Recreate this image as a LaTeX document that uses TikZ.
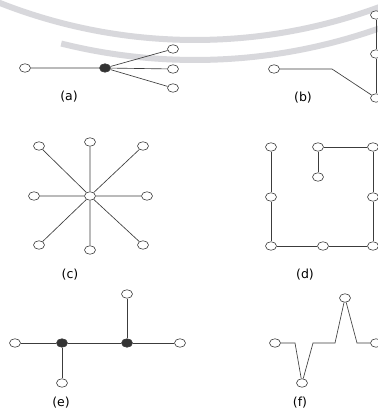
\documentclass[tikz,border=0pt]{standalone}
\usepackage{fontspec}
\setmainfont{DejaVu Sans}
\usetikzlibrary{shapes.geometric}
\definecolor{edgegray}{RGB}{60,60,60}
\definecolor{sealgray}{RGB}{216,216,220}
\tikzset{
  vtx/.style={draw=edgegray,fill=white,ellipse,minimum width=11pt,minimum height=8.5pt,inner sep=0pt,line width=0.6pt},
  hub/.style={vtx,fill=black!80},
  edge/.style={draw=edgegray,line width=0.65pt},
  caption/.style={font=\fontsize{12.5}{14}\selectfont}
}

\begin{document}
\begin{tikzpicture}[x=1pt,y=-1pt]
  \useasboundingbox (0,0) rectangle (377,411);
  \fill[white] (0,0) rectangle (377,411);
  \draw[sealgray,line width=6pt] plot[domain=68:113,samples=60] ({195+533*cos(\x)},{-493+533*sin(\x)});
  \draw[sealgray,line width=6pt] plot[domain=68:104,samples=60] ({195+553*cos(\x)},{-493+553*sin(\x)});

  \node[vtx] (a0) at (25,68) {};
  \node[hub] (a1) at (105,68) {};
  \node[vtx] (a2) at (173,49) {};
  \node[vtx] (a3) at (173,69) {};
  \node[vtx] (a4) at (173,88) {};
  \draw[edge] (a0) -- (a1) (a1) -- (a2) (a1) -- (a3) (a1) -- (a4);
  \node[caption] (capa) at (69,97) {(a)};

  \node[vtx] (b0) at (274,69) {};
  \coordinate (b1) at (332,69);
  \node[vtx] (b2) at (376,15) {};
  \node[vtx] (b3) at (376,54) {};
  \node[vtx] (b4) at (376,98) {};
  \draw[edge] (b0) -- (b1) -- (b4);
  \draw[edge] (b2) -- (b3) -- (b4);
  \node[caption] (capb) at (303,98) {(b)};

  \node[vtx] (c0) at (90,196) {};
  \node[vtx] (c1) at (90,142) {};
  \node[vtx] (c2) at (143,146) {};
  \node[vtx] (c3) at (147,196) {};
  \node[vtx] (c4) at (143,245) {};
  \node[vtx] (c5) at (90,250) {};
  \node[vtx] (c6) at (39,245) {};
  \node[vtx] (c7) at (34,196) {};
  \node[vtx] (c8) at (39,146) {};
  \draw[edge] (c0) -- (c1) (c0) -- (c2) (c0) -- (c3) (c0) -- (c4)
              (c0) -- (c5) (c0) -- (c6) (c0) -- (c7) (c0) -- (c8);
  \node[caption] (capc) at (70,275) {(c)};

  \node[vtx] (d0) at (271,147) {};
  \node[vtx] (d1) at (271,197) {};
  \node[vtx] (d2) at (271,246) {};
  \node[vtx] (d3) at (323,246) {};
  \node[vtx] (d4) at (373,246) {};
  \node[vtx] (d5) at (373,197) {};
  \node[vtx] (d6) at (373,147) {};
  \node[vtx] (d7) at (318,147) {};
  \node[vtx] (d8) at (318,177) {};
  \draw[edge] (d0) -- (d1) -- (d2) -- (d3) -- (d4) -- (d5) -- (d6) -- (d7) -- (d8);
  \node[caption] (capd) at (305,275) {(d)};

  \node[vtx] (e0) at (15,343) {};
  \node[hub] (e1) at (62,343) {};
  \node[hub] (e2) at (127,343) {};
  \node[vtx] (e3) at (180,343) {};
  \node[vtx] (e4) at (127,294) {};
  \node[vtx] (e5) at (62,383) {};
  \draw[edge] (e0) -- (e1) -- (e2) -- (e3) (e2) -- (e4) (e1) -- (e5);
  \node[caption] (cape) at (61,403) {(e)};

  \node[vtx] (f0) at (275,343) {};
  \coordinate (f1) at (295,343);
  \node[vtx] (f2) at (302,383) {};
  \coordinate (f3) at (313,343);
  \coordinate (f4) at (335,343);
  \node[vtx] (f5) at (345,298) {};
  \coordinate (f6) at (357,343);
  \node[vtx] (f7) at (376,343) {};
  \draw[edge] (f0) -- (f1) -- (f2) -- (f3) -- (f4) -- (f5) -- (f6) -- (f7);
  \node[caption] (capf) at (300,403) {(f)};
\end{tikzpicture}
\end{document}
